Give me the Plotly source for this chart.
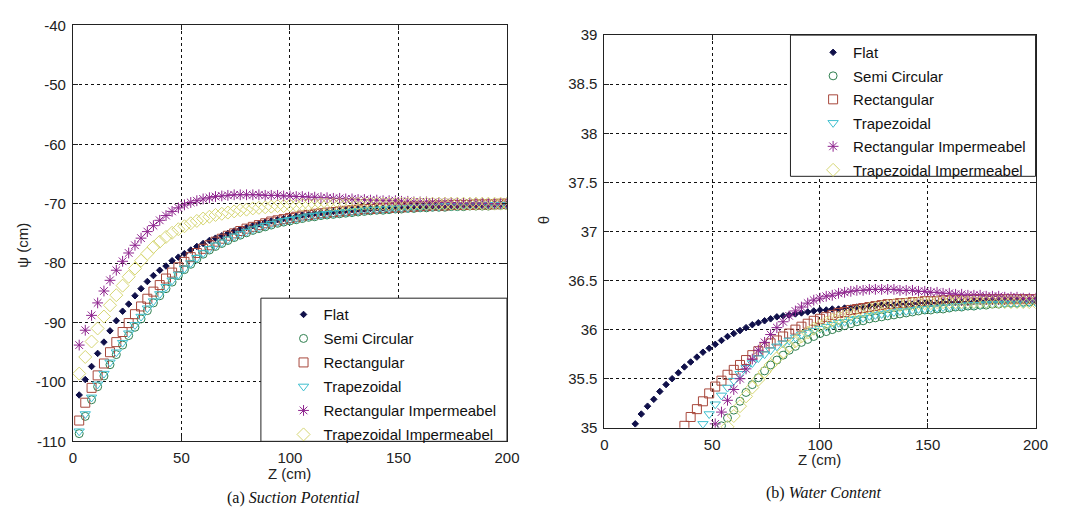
import plotly.graph_objects as go

W, H = 1083, 518

# ---------------- data ----------------
z_cm = [2.9, 5.7, 8.6, 11.4, 14.3, 17.1, 20.0, 22.9, 25.7, 28.6,
        31.4, 34.3, 37.1, 40.0, 42.9, 45.7, 48.6, 51.4, 54.3, 57.1,
        60.0, 62.9, 65.7, 68.6, 71.4, 74.3, 77.1, 80.0, 82.9, 85.7,
        88.6, 91.4, 94.3, 97.1, 100.0, 102.9, 105.7, 108.6, 111.4, 114.3,
        117.1, 120.0, 122.9, 125.7, 128.6, 131.4, 134.3, 137.1, 140.0, 142.9,
        145.7, 148.6, 151.4, 154.3, 157.1, 160.0, 162.9, 165.7, 168.6, 171.4,
        174.3, 177.1, 180.0, 182.9, 185.7, 188.6, 191.4, 194.3, 197.1, 200.0]

series_names = ["Flat", "Semi Circular", "Rectangular", "Trapezoidal",
                "Rectangular Impermeabel", "Trapezoidal Impermeabel"]

# (a) suction potential psi (cm)
psi_flat = [-102.2, -99.6, -97.4, -95.2, -93.3, -91.4, -89.7, -88.1, -86.9, -85.5,
            -84.3, -83.1, -82.1, -81.2, -80.5, -79.6, -79.0, -78.4, -77.8, -77.2,
            -76.7, -76.2, -75.8, -75.4, -75.0, -74.6, -74.3, -74.0, -73.7, -73.4,
            -73.1, -72.9, -72.7, -72.5, -72.3, -72.1, -71.9, -71.8, -71.6, -71.5,
            -71.4, -71.3, -71.2, -71.1, -71.0, -70.9, -70.9, -70.8, -70.7, -70.7,
            -70.6, -70.6, -70.5, -70.5, -70.5, -70.4, -70.4, -70.4, -70.3, -70.3,
            -70.3, -70.3, -70.2, -70.2, -70.2, -70.2, -70.2, -70.1, -70.1, -70.1]
psi_semi = [-108.7, -105.8, -103.0, -100.8, -99.0, -97.1, -95.4, -93.8, -92.2, -90.8,
            -89.4, -88.0, -86.7, -85.5, -84.3, -83.2, -82.1, -81.1, -80.2, -79.3,
            -78.5, -77.8, -77.2, -76.7, -76.2, -75.7, -75.3, -74.9, -74.5, -74.2,
            -73.9, -73.6, -73.3, -73.1, -72.9, -72.7, -72.5, -72.3, -72.2, -72.0,
            -71.9, -71.8, -71.7, -71.6, -71.5, -71.4, -71.3, -71.2, -71.1, -71.1,
            -71.0, -70.9, -70.9, -70.8, -70.8, -70.7, -70.7, -70.6, -70.6, -70.6,
            -70.5, -70.5, -70.5, -70.4, -70.4, -70.4, -70.4, -70.3, -70.3, -70.3]
psi_rect = [-106.5, -103.5, -101.0, -98.9, -96.9, -95.0, -93.3, -91.6, -90.1, -88.6,
            -87.3, -86.0, -84.8, -83.7, -82.6, -81.6, -80.7, -79.8, -79.0, -78.3,
            -77.6, -77.0, -76.4, -75.9, -75.4, -75.0, -74.6, -74.2, -73.9, -73.6,
            -73.3, -73.0, -72.8, -72.6, -72.4, -72.2, -72.0, -71.9, -71.7, -71.6,
            -71.5, -71.4, -71.3, -71.2, -71.1, -71.0, -70.9, -70.9, -70.8, -70.7,
            -70.7, -70.6, -70.6, -70.5, -70.5, -70.4, -70.4, -70.3, -70.3, -70.3,
            -70.2, -70.2, -70.2, -70.2, -70.1, -70.1, -70.1, -70.1, -70.0, -70.0]
psi_trap = [-108.3, -105.4, -102.6, -100.4, -98.6, -96.7, -95.0, -93.4, -91.8, -90.4,
            -89.0, -87.6, -86.4, -85.2, -84.0, -82.9, -81.9, -80.9, -80.0, -79.1,
            -78.3, -77.6, -77.0, -76.5, -76.0, -75.5, -75.1, -74.7, -74.3, -74.0,
            -73.7, -73.4, -73.1, -72.9, -72.7, -72.5, -72.3, -72.1, -72.0, -71.8,
            -71.7, -71.6, -71.5, -71.4, -71.3, -71.2, -71.1, -71.0, -71.0, -70.9,
            -70.8, -70.8, -70.7, -70.7, -70.6, -70.6, -70.5, -70.5, -70.5, -70.4,
            -70.4, -70.4, -70.3, -70.3, -70.3, -70.3, -70.2, -70.2, -70.2, -70.2]
psi_rect_imp = [-93.8, -91.3, -88.8, -86.7, -84.7, -82.9, -81.2, -79.7, -78.3, -77.0,
                -75.8, -74.7, -73.7, -72.8, -72.0, -71.3, -70.7, -70.2, -69.8, -69.5,
                -69.2, -69.0, -68.8, -68.7, -68.6, -68.5, -68.5, -68.5, -68.5, -68.5,
                -68.6, -68.6, -68.6, -68.7, -68.7, -68.8, -68.8, -68.9, -68.9, -69.0,
                -69.0, -69.1, -69.1, -69.2, -69.2, -69.3, -69.3, -69.4, -69.4, -69.5,
                -69.5, -69.5, -69.6, -69.6, -69.7, -69.7, -69.7, -69.8, -69.8, -69.8,
                -69.8, -69.9, -69.9, -69.9, -69.9, -69.9, -70.0, -70.0, -70.0, -70.0]
psi_trap_imp = [-98.6, -95.8, -93.2, -91.0, -89.0, -87.1, -85.4, -83.8, -82.3, -80.9,
                -79.6, -78.4, -77.3, -76.4, -75.6, -74.9, -74.3, -73.8, -73.3, -72.9,
                -72.5, -72.2, -71.9, -71.7, -71.5, -71.3, -71.1, -71.0, -70.8, -70.7,
                -70.6, -70.5, -70.4, -70.4, -70.3, -70.3, -70.2, -70.2, -70.2, -70.1,
                -70.1, -70.1, -70.1, -70.1, -70.0, -70.0, -70.0, -70.0, -70.0, -70.0,
                -70.0, -70.0, -70.0, -70.0, -70.0, -70.0, -70.0, -70.0, -70.0, -70.0,
                -70.0, -70.0, -70.0, -70.0, -70.0, -70.0, -70.0, -70.0, -70.0, -70.0]

# (b) water content theta (points below 35 are outside the plotted range)
th_flat = [None, None, None, None, 35.04, 35.14, 35.22, 35.29, 35.37, 35.44,
           35.50, 35.56, 35.62, 35.67, 35.72, 35.77, 35.81, 35.85, 35.89, 35.93,
           35.96, 35.99, 36.02, 36.05, 36.07, 36.09, 36.11, 36.13, 36.14, 36.15,
           36.16, 36.17, 36.18, 36.19, 36.20, 36.20, 36.21, 36.21, 36.22, 36.22,
           36.23, 36.23, 36.24, 36.24, 36.25, 36.25, 36.25, 36.26, 36.26, 36.26,
           36.27, 36.27, 36.27, 36.27, 36.28, 36.28, 36.28, 36.28, 36.28, 36.29,
           36.29, 36.29, 36.29, 36.29, 36.29, 36.30, 36.30, 36.30, 36.30, 36.30]
th_semi = [None, None, None, None, None, None, None, None, None, None,
           None, None, None, None, None, None, None, None, 35.02, 35.10,
           35.18, 35.27, 35.36, 35.44, 35.51, 35.58, 35.64, 35.69, 35.74, 35.79,
           35.83, 35.87, 35.90, 35.93, 35.96, 35.98, 36.00, 36.02, 36.04, 36.06,
           36.08, 36.09, 36.11, 36.12, 36.13, 36.14, 36.15, 36.16, 36.17, 36.18,
           36.19, 36.20, 36.20, 36.21, 36.21, 36.22, 36.23, 36.23, 36.24, 36.24,
           36.25, 36.25, 36.26, 36.26, 36.27, 36.27, 36.27, 36.28, 36.28, 36.29]
th_rect = [None, None, None, None, None, None, None, None, None, None,
           None, None, 35.02, 35.11, 35.19, 35.27, 35.35, 35.42, 35.48, 35.54,
           35.59, 35.64, 35.69, 35.74, 35.78, 35.82, 35.86, 35.89, 35.93, 35.96,
           36.00, 36.03, 36.06, 36.09, 36.11, 36.13, 36.15, 36.17, 36.18, 36.20,
           36.21, 36.22, 36.23, 36.24, 36.25, 36.26, 36.26, 36.27, 36.27, 36.28,
           36.28, 36.29, 36.29, 36.29, 36.30, 36.30, 36.30, 36.30, 36.30, 36.31,
           36.31, 36.31, 36.31, 36.31, 36.31, 36.31, 36.31, 36.31, 36.31, 36.31]
th_trap = [None, None, None, None, None, None, None, None, None, None,
           None, None, None, None, None, 35.04, 35.14, 35.24, 35.33, 35.41,
           35.48, 35.55, 35.61, 35.66, 35.71, 35.75, 35.79, 35.83, 35.86, 35.89,
           35.92, 35.95, 35.97, 35.99, 36.01, 36.03, 36.05, 36.07, 36.08, 36.10,
           36.11, 36.12, 36.14, 36.15, 36.16, 36.17, 36.18, 36.19, 36.19, 36.20,
           36.21, 36.21, 36.22, 36.22, 36.23, 36.23, 36.24, 36.24, 36.25, 36.25,
           36.25, 36.26, 36.26, 36.26, 36.27, 36.27, 36.27, 36.27, 36.28, 36.28]
th_rect_imp = [None, None, None, None, None, None, None, None, None, None,
               None, None, None, None, None, None, None, 35.04, 35.16, 35.28,
               35.39, 35.50, 35.60, 35.70, 35.79, 35.87, 35.95, 36.02, 36.08, 36.14,
               36.19, 36.23, 36.27, 36.30, 36.32, 36.34, 36.35, 36.37, 36.38, 36.39,
               36.40, 36.40, 36.41, 36.41, 36.41, 36.41, 36.41, 36.40, 36.40, 36.40,
               36.39, 36.39, 36.38, 36.38, 36.37, 36.37, 36.36, 36.36, 36.35, 36.35,
               36.35, 36.34, 36.34, 36.34, 36.33, 36.33, 36.33, 36.32, 36.32, 36.32]
th_trap_imp = [None, None, None, None, None, None, None, None, None, None,
               None, None, None, None, None, None, None, None, None, 35.01,
               35.12, 35.22, 35.32, 35.41, 35.49, 35.57, 35.64, 35.71, 35.77, 35.83,
               35.88, 35.93, 35.97, 36.01, 36.04, 36.07, 36.10, 36.12, 36.14, 36.16,
               36.18, 36.19, 36.21, 36.22, 36.23, 36.24, 36.25, 36.25, 36.26, 36.26,
               36.27, 36.27, 36.27, 36.28, 36.28, 36.28, 36.28, 36.28, 36.28, 36.28,
               36.28, 36.28, 36.28, 36.28, 36.28, 36.28, 36.28, 36.28, 36.28, 36.28]

x_ticks = [0, 50, 100, 150, 200]
x_tick_labels = ["0", "50", "100", "150", "200"]
psi_ticks = [-110, -100, -90, -80, -70, -60, -50, -40]
psi_tick_labels = ["-110", "-100", "-90", "-80", "-70", "-60", "-50", "-40"]
th_ticks = [35, 35.5, 36, 36.5, 37, 37.5, 38, 38.5, 39]
th_tick_labels = ["35", "35.5", "36", "36.5", "37", "37.5", "38", "38.5", "39"]

psi_series = [psi_flat, psi_semi, psi_rect, psi_trap, psi_rect_imp, psi_trap_imp]
th_series = [th_flat, th_semi, th_rect, th_trap, th_rect_imp, th_trap_imp]

# ---------------- styles ----------------
styles = [
    dict(symbol="diamond", size=5, color="#10104a"),
    dict(symbol="circle-open", size=8, color="#2f7f4f"),
    dict(symbol="square-open", size=9, color="#a8483c"),
    dict(symbol="triangle-down-open", size=9, color="#3fbfcf"),
    dict(symbol="asterisk-open", size=9, color="#8e248e"),
    dict(symbol="diamond-open", size=10, color="#d6d673"),
]


def fx(p):
    """page pixel -> paper fraction"""
    return p / W


def fy(p):
    return 1 - p / H


fig = go.Figure()
for i, name in enumerate(series_names):
    st = styles[i]
    mk = dict(symbol=st["symbol"], size=st["size"], color=st["color"],
              line=dict(color=st["color"], width=1))
    fig.add_trace(go.Scatter(x=z_cm, y=psi_series[i], mode="markers", name=name,
                             marker=mk, xaxis="x", yaxis="y", legend="legend",
                             legendgroup="a%d" % i))
for i, name in enumerate(series_names):
    st = styles[i]
    mk = dict(symbol=st["symbol"], size=st["size"], color=st["color"],
              line=dict(color=st["color"], width=1))
    fig.add_trace(go.Scatter(x=z_cm, y=th_series[i], mode="markers", name=name,
                             marker=mk, xaxis="x2", yaxis="y2", legend="legend2",
                             legendgroup="b%d" % i))

SANS = "Liberation Sans, Arial, sans-serif"
SERIF = "Liberation Serif, Times New Roman, serif"
tickfont = dict(family=SANS, size=15, color="#222")
common = dict(showline=True, linecolor="#222", linewidth=1, mirror="ticks",
              ticks="inside", ticklen=5, tickcolor="#222",
              showgrid=True, gridcolor="#111", gridwidth=1, griddash="3px,3px",
              zeroline=False, tickfont=tickfont, ticklabelstandoff=3)


def label(text, x, y, font, angle=0):
    return dict(text=text, x=fx(x), y=fy(y), xref="paper", yref="paper",
                xanchor="center", yanchor="middle", showarrow=False,
                textangle=angle, font=font)


axfont = dict(family=SANS, size=15, color="#222")
capfont = dict(family=SERIF, size=16, color="#111")

fig.update_layout(
    width=W, height=H,
    margin=dict(l=0, r=0, t=0, b=0),
    paper_bgcolor="white", plot_bgcolor="white",
    xaxis=dict(domain=[fx(70), fx(511)], range=[0, 200], anchor="y",
               tickvals=x_ticks, ticktext=x_tick_labels, **common),
    yaxis=dict(domain=[fy(447), fy(17)], range=[-110, -40], anchor="x",
               tickvals=psi_ticks, ticktext=psi_tick_labels, **common),
    xaxis2=dict(domain=[fx(610), fx(1048)], range=[0, 200], anchor="y2",
                tickvals=x_ticks, ticktext=x_tick_labels, **common),
    yaxis2=dict(domain=[fy(433), fy(27)], range=[35, 39], anchor="x2",
                tickvals=th_ticks, ticktext=th_tick_labels, **common),
    legend=dict(x=fx(284), xanchor="left", y=fy(299), yanchor="top",
                bgcolor="rgba(0,0,0,0)", borderwidth=0, tracegroupgap=1.5,
                font=dict(family=SANS, size=15, color="#111")),
    legend2=dict(x=fx(822), xanchor="left", y=fy(28), yanchor="top",
                 bgcolor="rgba(0,0,0,0)", borderwidth=0, tracegroupgap=1,
                 font=dict(family=SANS, size=15, color="#111")),
    shapes=[
        dict(type="rect", xref="paper", yref="paper", layer="above",
             x0=fx(261), x1=fx(511), y0=fy(447), y1=fy(299),
             fillcolor="white", line=dict(color="#222", width=1)),
        dict(type="rect", xref="paper", yref="paper", layer="above",
             x0=fx(799), x1=fx(1048), y0=fy(173), y1=fy(27),
             fillcolor="white", line=dict(color="#222", width=1)),
    ],
    annotations=[
        label("Z (cm)", 290, 480, axfont),
        label("Z (cm)", 829, 466, axfont),
        label("ψ (cm)", 19, 244, axfont, -90),
        label("θ", 548, 218, axfont, -90),
        label("(a) <i>Suction Potential</i>", 294, 506, capfont),
        label("(b) <i>Water Content</i>", 833, 500, capfont),
    ],
)

fig.write_html("out.html")
